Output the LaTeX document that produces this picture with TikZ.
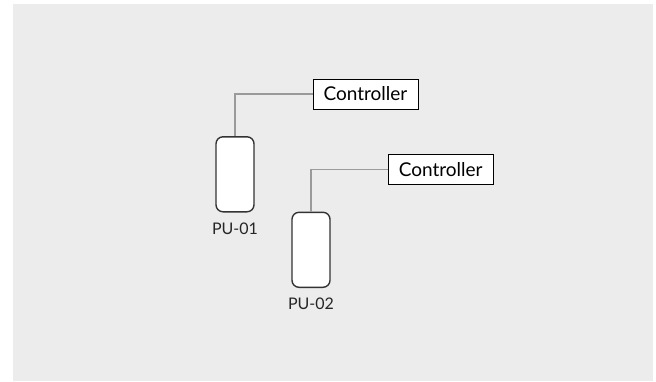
\documentclass[tikz,border=0pt]{standalone}
\usepackage{fontspec}
\setmainfont{Lato}
\usetikzlibrary{positioning}
\definecolor{bggray}{HTML}{ECECEC}
\definecolor{wiregray}{HTML}{9A9A9A}
\definecolor{edgegray}{HTML}{333333}

\begin{document}
\begin{tikzpicture}[x=1pt,y=-1pt,
  ctrl/.style={draw=black,fill=white,line width=1pt,minimum width=105pt,minimum height=30pt,inner sep=0pt,font=\fontsize{19}{19}\selectfont},
  unit/.style={draw=edgegray,fill=white,line width=1.4pt,rounded corners=7pt,minimum width=38pt,minimum height=75pt,inner sep=0pt},
  tag/.style={inner sep=0pt,text=black!85,font=\fontsize{16}{16}\selectfont},
  wire/.style={draw=wiregray,line width=1.3pt}]
  \useasboundingbox (0,0) rectangle (656,381);
  \fill[bggray] (13,4) rectangle (653,381);

  % pumping units
  \node[unit] (pu1) at (235,174.3) {};
  \node[unit] (pu2) at (311,249.8) {};
  \node[tag,below=10pt of pu1] (pu1tag) {PU-01};
  \node[tag,below=10pt of pu2] (pu2tag) {PU-02};

  % controllers
  \node[ctrl] (ctrl1) at (365.5,94) {Controller};
  \node[ctrl] (ctrl2) at (440.7,169.7) {Controller};

  \draw[wire] (pu1.north) |- (ctrl1.west);
  \draw[wire] (pu2.north) |- (ctrl2.west);
\end{tikzpicture}
\end{document}
